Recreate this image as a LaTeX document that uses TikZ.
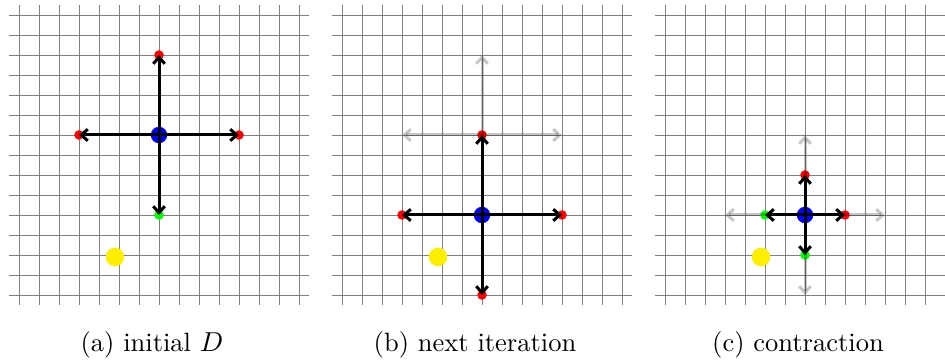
\documentclass[tikz,border=0pt]{standalone}
\usepackage{xcolor}
\usepackage{tikz}
\usetikzlibrary{arrows.meta}

\definecolor{dotyellow}{RGB}{255,238,0}

\begin{document}
\begin{tikzpicture}[x=8pt, y=8pt,
  gridline/.style = {draw=black!50, line width=0.38pt},
  dot/.style      = {circle, inner sep=0pt, minimum size=3.8pt},
  reddot/.style   = {dot, fill=red},
  greendot/.style = {dot, fill=green},
  centre/.style   = {circle, inner sep=0pt, minimum size=6.6pt, fill=blue},
  target/.style   = {circle, inner sep=0pt, minimum size=7.4pt, fill=dotyellow},
  arr/.style      = {-{Straight Barb[length=2.6pt,width=4.6pt]}, line width=1.2pt},
  oldarr/.style   = {arr, draw=black, draw opacity=0.22},
  subcap/.style   = {font=\fontsize{10.6}{12}\selectfont, inner sep=0pt}
]
\useasboundingbox (-0.95,-3.35) rectangle (46.3,14.75);

% -- Panel a: initial D --
\begin{scope}
  \foreach \i in {0,...,14} {
    \draw[gridline] (\i,-0.5) -- (\i,14.5);
    \draw[gridline] (-0.5,\i) -- (14.5,\i);
  }
  \node[target]   (a-goal) at (4.8,1.9) {};
  \node[reddot]   (a-n) at (7,12) {};
  \node[reddot]   (a-w) at (3,8) {};
  \node[reddot]   (a-e) at (11,8) {};
  \node[greendot] (a-s) at (7,4) {};
  \node[centre]   (a-c) at (7,8) {};
  \draw[arr] (a-c.center) -- (a-n.center);
  \draw[arr] (a-c.center) -- (a-w.center);
  \draw[arr] (a-c.center) -- (a-e.center);
  \draw[arr] (a-c.center) -- (a-s.center);
  \node[subcap] (a-cap) at (6.65,-2.5) {(a) initial $D$};
\end{scope}

% -- Panel b: next iteration --
\begin{scope}[shift={(16.15,0)}]
  \foreach \i in {0,...,14} {
    \draw[gridline] (\i,-0.5) -- (\i,14.5);
    \draw[gridline] (-0.5,\i) -- (14.5,\i);
  }
  \coordinate (b-on) at (7,12);
  \coordinate (b-ow) at (3,8);
  \coordinate (b-oe) at (11,8);
  \node[target] (b-goal) at (4.8,1.9) {};
  \node[reddot] (b-n) at (7,8) {};
  \node[reddot] (b-w) at (3,4) {};
  \node[reddot] (b-e) at (11,4) {};
  \node[reddot] (b-s) at (7,0) {};
  \node[centre] (b-c) at (7,4) {};
  % previous step
  \draw[oldarr] (b-n.center) -- (b-on);
  \draw[oldarr] (b-n.center) -- (b-ow);
  \draw[oldarr] (b-n.center) -- (b-oe);
  \draw[arr] (b-c.center) -- (b-n.center);
  \draw[arr] (b-c.center) -- (b-w.center);
  \draw[arr] (b-c.center) -- (b-e.center);
  \draw[arr] (b-c.center) -- (b-s.center);
  \node[subcap] (b-cap) at (6.65,-2.5) {(b) next iteration};
\end{scope}

% -- Panel c: contraction --
\begin{scope}[shift={(32.3,0)}]
  \foreach \i in {0,...,14} {
    \draw[gridline] (\i,-0.5) -- (\i,14.5);
    \draw[gridline] (-0.5,\i) -- (14.5,\i);
  }
  \coordinate (c-on) at (7,8);
  \coordinate (c-ow) at (3,4);
  \coordinate (c-oe) at (11,4);
  \coordinate (c-os) at (7,0);
  \node[target]   (c-goal) at (4.8,1.9) {};
  \node[reddot]   (c-n) at (7,6) {};
  \node[greendot] (c-w) at (5,4) {};
  \node[reddot]   (c-e) at (9,4) {};
  \node[greendot] (c-s) at (7,2) {};
  \node[centre]   (c-c) at (7,4) {};
  % previous step
  \draw[oldarr] (c-c.center) -- (c-on);
  \draw[oldarr] (c-c.center) -- (c-ow);
  \draw[oldarr] (c-c.center) -- (c-oe);
  \draw[oldarr] (c-c.center) -- (c-os);
  \draw[arr] (c-c.center) -- (c-n.center);
  \draw[arr] (c-c.center) -- (c-w.center);
  \draw[arr] (c-c.center) -- (c-e.center);
  \draw[arr] (c-c.center) -- (c-s.center);
  \node[subcap] (c-cap) at (6.65,-2.5) {(c) contraction};
\end{scope}

\end{tikzpicture}
\end{document}
